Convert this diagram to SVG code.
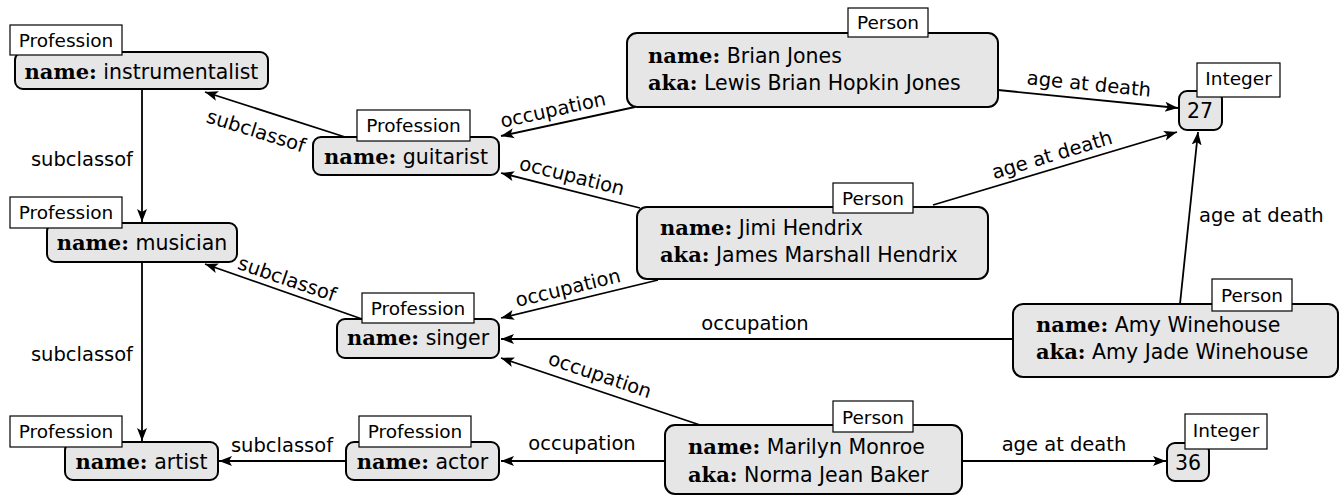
<svg xmlns="http://www.w3.org/2000/svg" width="1340" height="497" viewBox="0 0 1340 497">
<style>
.bg{fill:#ffffff}
.box{fill:#e6e6e6;stroke:#000;stroke-width:2}
.tag{fill:#ffffff;stroke:#000;stroke-width:1.2}
.tt{font-family:"DejaVu Sans",sans-serif;font-size:18.5px;fill:#000;text-anchor:middle}
.nt{font-family:"DejaVu Sans",sans-serif;font-size:20.5px;fill:#000}
.k{font-family:"DejaVu Serif",serif;font-weight:bold;font-size:21px}
.e{stroke:#000;stroke-width:1.8;fill:none;marker-end:url(#arr)}
.el{font-family:"DejaVu Sans",sans-serif;font-size:19.5px;fill:#000}
.c{text-anchor:middle;dominant-baseline:central}
</style>
<defs>
<marker id="arr" markerUnits="userSpaceOnUse" markerWidth="14" markerHeight="12" refX="13" refY="6" orient="auto">
<path d="M0,1 L13,6 L0,11 L3,6 z" fill="#000"/>
</marker>
</defs>
<rect class="bg" x="0" y="0" width="1340" height="497"/>
<g id="connectors">
<line class="e" x1="142" y1="90" x2="142" y2="222"/>
<text class="el" x="133" y="166" text-anchor="end">subclassof</text>
<line class="e" x1="142" y1="262" x2="142" y2="441"/>
<text class="el" x="133" y="361" text-anchor="end">subclassof</text>
<line class="e" x1="345" y1="137" x2="205" y2="92"/>
<text class="el c" transform="translate(256,131) rotate(17.4)">subclassof</text>
<line class="e" x1="362" y1="319" x2="205" y2="264"/>
<text class="el c" transform="translate(287,279) rotate(18.9)">subclassof</text>
<line class="e" x1="346" y1="461" x2="219" y2="461"/>
<text class="el" x="282" y="452" text-anchor="middle">subclassof</text>
<line class="e" x1="635" y1="107" x2="501" y2="136"/>
<text class="el c" transform="translate(553,110) rotate(-12.3)">occupation</text>
<line class="e" x1="640" y1="208" x2="501" y2="173"/>
<text class="el c" transform="translate(572,176) rotate(14.2)">occupation</text>
<line class="e" x1="658" y1="280" x2="501" y2="318"/>
<text class="el c" transform="translate(568,288) rotate(-13.7)">occupation</text>
<line class="e" x1="1013" y1="339" x2="501" y2="339"/>
<text class="el" x="755" y="330" text-anchor="middle">occupation</text>
<line class="e" x1="700" y1="425" x2="501" y2="358"/>
<text class="el c" transform="translate(600,375) rotate(18.7)">occupation</text>
<line class="e" x1="665" y1="461" x2="501" y2="461"/>
<text class="el" x="582" y="450" text-anchor="middle">occupation</text>
<line class="e" x1="998" y1="90" x2="1178" y2="108"/>
<text class="el c" transform="translate(1089,84) rotate(5.7)">age at death</text>
<line class="e" x1="933" y1="205" x2="1177" y2="132"/>
<text class="el c" transform="translate(1052,155) rotate(-16.7)">age at death</text>
<line class="e" x1="1180" y1="304" x2="1198" y2="132"/>
<text class="el" x="1199" y="222">age at death</text>
<line class="e" x1="962" y1="461" x2="1166" y2="461"/>
<text class="el" x="1064" y="451" text-anchor="middle">age at death</text>
</g>
<g id="instrumentalist">
<rect class="box" x="15" y="52" width="253" height="37" rx="8"/>
<rect class="tag" x="10" y="25" width="112" height="30"/>
<text class="tt" x="66" y="47">Profession</text>
<text class="nt" x="141.5" y="79" text-anchor="middle"><tspan class="k">name:</tspan> instrumentalist</text>
</g>
<g id="guitarist">
<rect class="box" x="313" y="137" width="186" height="38" rx="8"/>
<rect class="tag" x="357" y="110" width="113" height="31"/>
<text class="tt" x="413.5" y="132">Profession</text>
<text class="nt" x="406" y="164" text-anchor="middle"><tspan class="k">name:</tspan> guitarist</text>
</g>
<g id="musician">
<rect class="box" x="47" y="223" width="190" height="39" rx="8"/>
<rect class="tag" x="10" y="197" width="112" height="31"/>
<text class="tt" x="66" y="219">Profession</text>
<text class="nt" x="142" y="250" text-anchor="middle"><tspan class="k">name:</tspan> musician</text>
</g>
<g id="singer">
<rect class="box" x="337" y="319" width="162" height="39" rx="8"/>
<rect class="tag" x="362" y="293" width="112" height="30"/>
<text class="tt" x="418" y="315">Profession</text>
<text class="nt" x="418" y="345" text-anchor="middle"><tspan class="k">name:</tspan> singer</text>
</g>
<g id="artist">
<rect class="box" x="65" y="442" width="153" height="38" rx="8"/>
<rect class="tag" x="10" y="416" width="112" height="31"/>
<text class="tt" x="66" y="438">Profession</text>
<text class="nt" x="141.5" y="469" text-anchor="middle"><tspan class="k">name:</tspan> artist</text>
</g>
<g id="actor">
<rect class="box" x="346" y="442" width="153" height="38" rx="8"/>
<rect class="tag" x="359" y="416" width="112" height="31"/>
<text class="tt" x="415" y="438">Profession</text>
<text class="nt" x="422.5" y="469" text-anchor="middle"><tspan class="k">name:</tspan> actor</text>
</g>
<g id="brian">
<rect class="box" x="627" y="33" width="371" height="74" rx="10"/>
<rect class="tag" x="848" y="8" width="80" height="29"/>
<text class="tt" x="888" y="29">Person</text>
<text class="nt" x="648" y="63"><tspan class="k">name:</tspan> Brian Jones</text>
<text class="nt" x="648" y="90"><tspan class="k">aka:</tspan> Lewis Brian Hopkin Jones</text>
</g>
<g id="jimi">
<rect class="box" x="637" y="207" width="351" height="72" rx="10"/>
<rect class="tag" x="833" y="183" width="80" height="30"/>
<text class="tt" x="873" y="205">Person</text>
<text class="nt" x="660" y="235"><tspan class="k">name:</tspan> Jimi Hendrix</text>
<text class="nt" x="660" y="262"><tspan class="k">aka:</tspan> James Marshall Hendrix</text>
</g>
<g id="amy">
<rect class="box" x="1013" y="304" width="325" height="73" rx="10"/>
<rect class="tag" x="1212" y="279" width="80" height="32"/>
<text class="tt" x="1252" y="302">Person</text>
<text class="nt" x="1036" y="332"><tspan class="k">name:</tspan> Amy Winehouse</text>
<text class="nt" x="1036" y="359"><tspan class="k">aka:</tspan> Amy Jade Winehouse</text>
</g>
<g id="marilyn">
<rect class="box" x="665" y="425" width="297" height="69" rx="10"/>
<rect class="tag" x="833" y="401" width="80" height="31"/>
<text class="tt" x="873" y="424">Person</text>
<text class="nt" x="688" y="454"><tspan class="k">name:</tspan> Marilyn Monroe</text>
<text class="nt" x="688" y="482"><tspan class="k">aka:</tspan> Norma Jean Baker</text>
</g>
<g id="age27">
<rect class="box" x="1179" y="91" width="43" height="39" rx="8"/>
<rect class="tag" x="1197" y="63" width="83" height="34"/>
<text class="tt" x="1238.5" y="85">Integer</text>
<text class="nt" x="1200" y="118" text-anchor="middle">27</text>
</g>
<g id="age36">
<rect class="box" x="1167" y="443" width="42" height="38" rx="8"/>
<rect class="tag" x="1185" y="414" width="82" height="35"/>
<text class="tt" x="1226" y="437">Integer</text>
<text class="nt" x="1188" y="470" text-anchor="middle">36</text>
</g>
</svg>
